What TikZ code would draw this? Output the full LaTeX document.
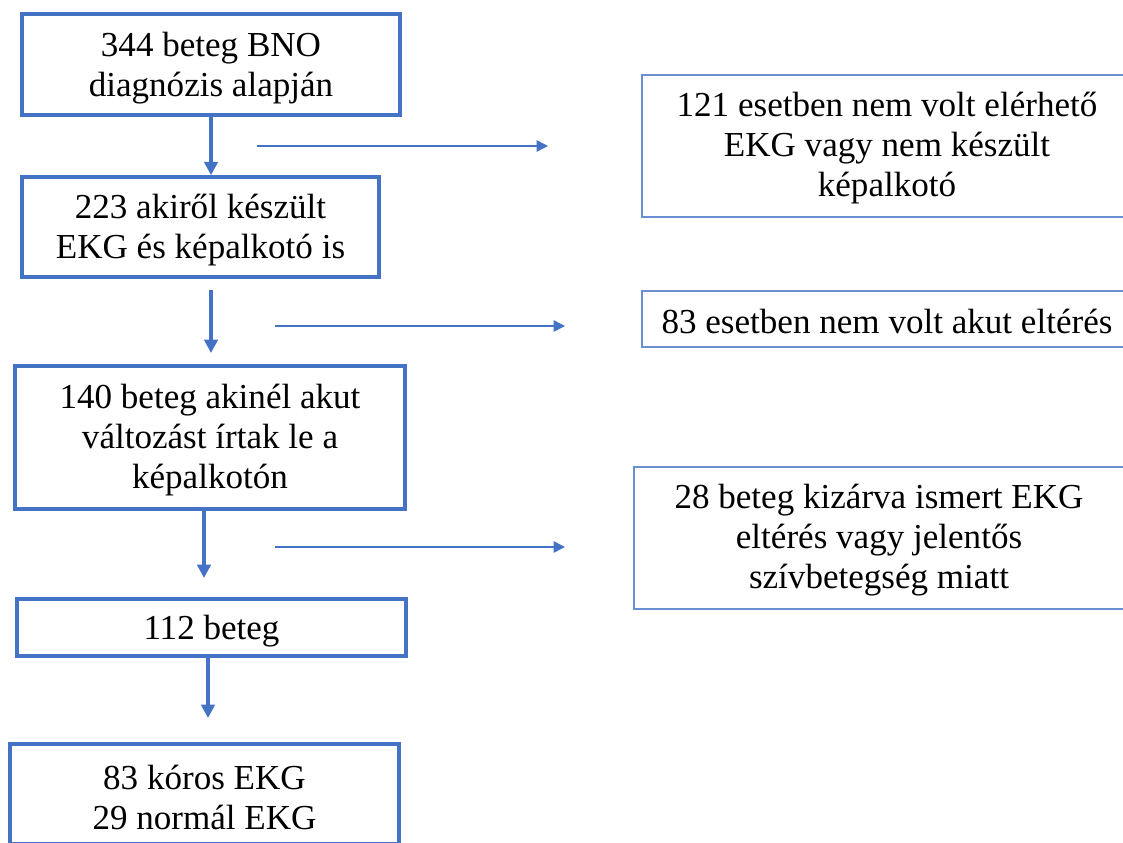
\documentclass[tikz,border=0pt]{standalone}
\usepackage{fontspec}
\setmainfont{Liberation Serif}
\newfontfamily\boxfont{Liberation Serif}
\usetikzlibrary{arrows.meta}
\definecolor{flowblue}{HTML}{4472C4}
\definecolor{sideblue}{HTML}{6A8FD2}
\begin{document}
\begin{tikzpicture}[x=0.75pt,y=-0.75pt,
  txt/.style={align=center, inner sep=0pt, font=\boxfont\fontsize{26.3}{30}\selectfont},
  mainbox/.style={draw=flowblue, line width=2.6pt, fill=white, inner sep=0pt},
  sidebox/.style={draw=sideblue, line width=1pt, fill=white, inner sep=0pt},
  thickarrow/.style={draw=flowblue, line width=3pt, -{Triangle[length=10pt,width=10pt]}},
  thinarrow/.style={draw=flowblue, line width=1.1pt, -{Triangle[length=8.5pt,width=8.5pt]}}]
\useasboundingbox (0,0) rectangle (1123,842);
\clip (0,0) rectangle (1123,842);
% main column boxes
\node[mainbox, minimum width=283.5pt, minimum height=75.75pt] (b1) at (211,64.5) {};
\node[mainbox, minimum width=267.75pt, minimum height=75pt] (b2) at (200.5,227) {};
\node[mainbox, minimum width=292.5pt, minimum height=107.25pt] (b3) at (210,437.5) {};
\node[mainbox, minimum width=291.75pt, minimum height=42.75pt] (b4) at (211.5,627.5) {};
\node[mainbox, minimum width=291.75pt, minimum height=75pt] (b5) at (204.5,794) {};
% side boxes
\node[sidebox, minimum width=367.5pt, minimum height=106.5pt] (r1) at (887,146) {};
\node[sidebox, minimum width=367.5pt, minimum height=42pt] (r2) at (887,319) {};
\node[sidebox, minimum width=367.5pt, minimum height=106.5pt] (r3) at (879,538) {};
% texts
\node[txt] (t1) at ([yshift=-2.5pt]b1.center) {344 beteg BNO\\diagnózis alapján};
\node[txt] (t2) at ([yshift=-2.5pt]b2.center) {223 akiről készült\\EKG és képalkotó is};
\node[txt] (t3) at ([yshift=-2pt]b3.center) {140 beteg akinél akut\\változást írtak le a\\képalkotón};
\node[txt] (t4) at ([yshift=-2.5pt]b4.center) {112 beteg};
\node[txt] (t5) at ([yshift=-2.5pt]b5.center) {83 kóros EKG\\29 normál EKG};
\node[txt] (s1) at ([yshift=-1.5pt]r1.center) {121 esetben nem volt elérhető\\EKG vagy nem készült\\képalkotó};
\node[txt] (s2) at ([yshift=-1.5pt]r2.center) {83 esetben nem volt akut eltérés};
\node[txt] (s3) at ([yshift=-1.5pt]r3.center) {28 beteg kizárva ismert EKG\\eltérés vagy jelentős\\szívbetegség miatt};
% free ends
\coordinate (a2s) at (211,290);
\coordinate (a2e) at (211,353);
\coordinate (a3e) at (204,578);
\coordinate (a4e) at (208,718);
\coordinate (h1s) at (257,146);
\coordinate (h1e) at (548,146);
\coordinate (h2s) at (275,326);
\coordinate (h2e) at (565,326);
\coordinate (h3s) at (275,547);
\coordinate (h3e) at (565,547);
% vertical arrows
\draw[thickarrow] (b1.south) -- (b1.south |- b2.north);
\draw[thickarrow] (a2s) -- (a2e);
\draw[thickarrow] (b3.south -| a3e) -- (a3e);
\draw[thickarrow] (b4.south -| a4e) -- (a4e);
% horizontal arrows
\draw[thinarrow] (h1s) -- (h1e);
\draw[thinarrow] (h2s) -- (h2e);
\draw[thinarrow] (h3s) -- (h3e);
\end{tikzpicture}
\end{document}
